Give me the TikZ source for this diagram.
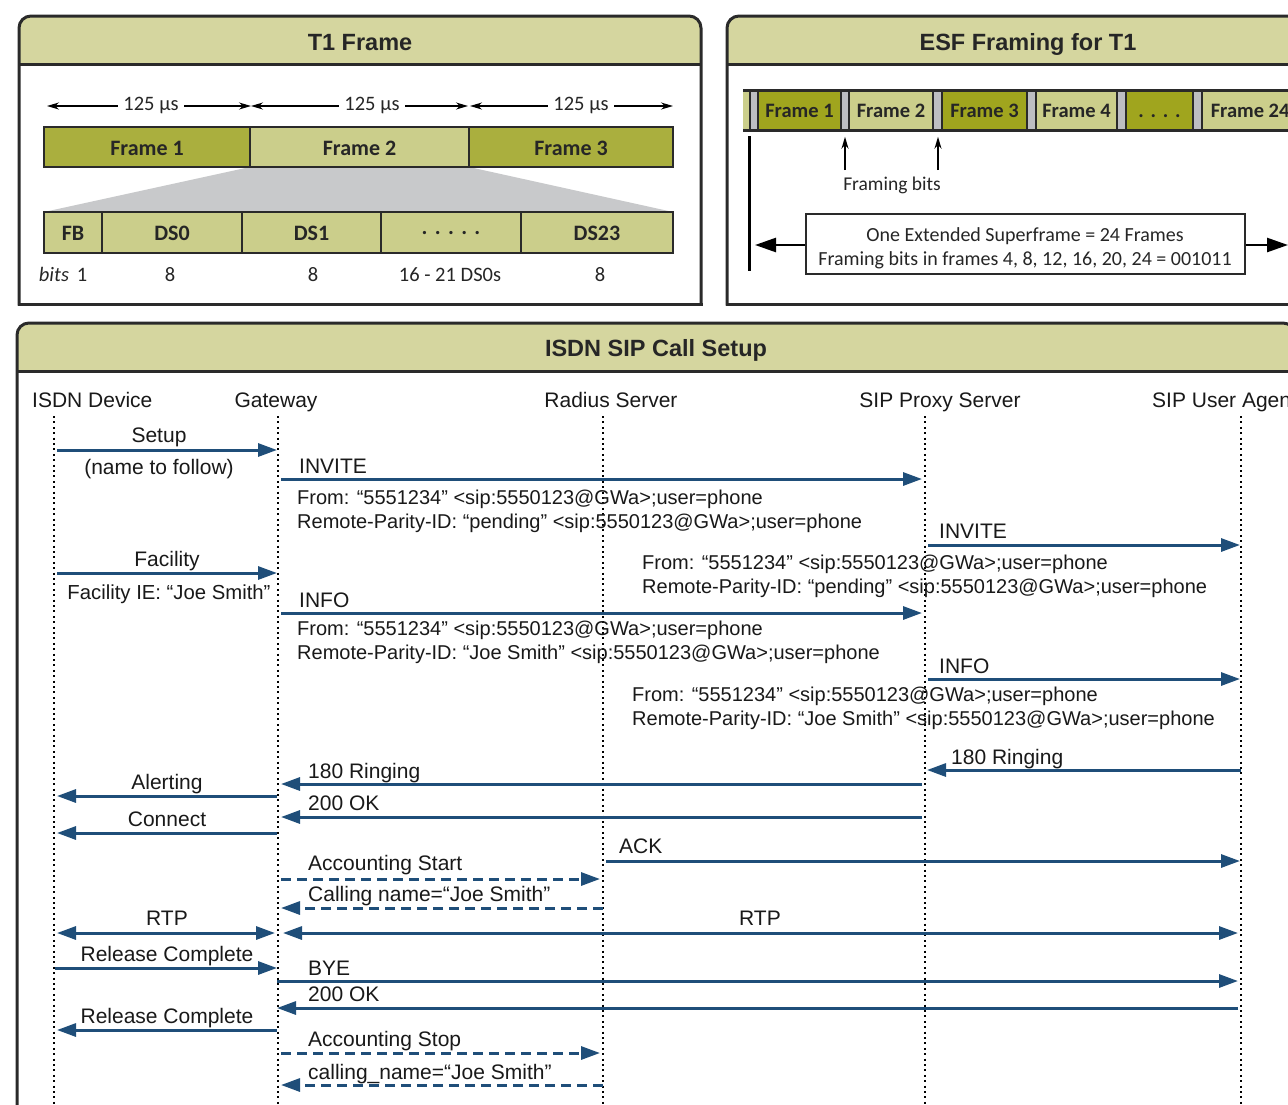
\documentclass[tikz,border=0pt]{standalone}
\usepackage{fontspec}
\setmainfont{Liberation Sans}
\newfontfamily\calfont{Carlito}
\usetikzlibrary{arrows.meta}
\definecolor{band}{HTML}{D5D69F}
\definecolor{oliveA}{HTML}{AAAF3E}
\definecolor{oliveB}{HTML}{A0A51E}
\definecolor{lightol}{HTML}{CBCE8B}
\definecolor{trapgray}{HTML}{C8C9CB}
\definecolor{fbitgray}{HTML}{BDBEC2}
\definecolor{msgblue}{HTML}{1F4E79}
\definecolor{edgecol}{HTML}{2A2A2A}
\begin{document}
\begin{tikzpicture}[x=1pt,y=-1pt,
  panelline/.style={draw=edgecol,line width=3pt},
  ttl/.style={font=\fontsize{23.5}{28}\selectfont\bfseries,text=black!85,inner sep=0pt,anchor=base},
  cell/.style={draw=edgecol,line width=2pt,minimum height=40pt,inner sep=0pt,text height=16pt,text depth=0pt,
     font=\calfont\bfseries\fontsize{22}{26}\selectfont,text=black!85},
  ecell/.style={draw=edgecol,line width=1.5pt,minimum height=40pt,inner sep=0pt,text height=15pt,text depth=0pt,
     font=\calfont\bfseries\fontsize{20.5}{24}\selectfont,text=black!85},
  ttxt/.style={font=\calfont\fontsize{20.5}{24}\selectfont,text=black!85,inner sep=0pt},
  etxt/.style={font=\calfont\fontsize{19.5}{23}\selectfont,text=black!85,inner sep=0pt},
  dimarr/.style={draw=black,line width=1.4pt,{Stealth[length=12pt,width=7pt]}-{Stealth[length=12pt,width=7pt]}},
  uparr/.style={draw=black,line width=1.5pt,-{Stealth[length=12pt,width=7pt]}},
  bigarr/.style={draw=black,line width=2.5pt,-{Triangle[length=21pt,width=14pt]}},
  seq/.style={font=\fontsize{21}{25}\selectfont,text=black!90,inner sep=0pt},
  seqs/.style={font=\fontsize{20}{24}\selectfont,text=black!90,inner sep=0pt,anchor=base west},
  msg/.style={draw=msgblue,line width=3pt,-{Triangle[length=19pt,width=13pt]}},
  msgd/.style={msg,dash pattern=on 10pt off 6pt},
  msgb/.style={draw=msgblue,line width=3pt,{Triangle[length=19pt,width=13pt]}-{Triangle[length=19pt,width=13pt]}},
  lifeline/.style={draw=black,line width=2.2pt,dash pattern=on 2pt off 3.4pt}
]
\useasboundingbox (0,0) rectangle (1288,1104);
\clip (0,0) rectangle (1288,1104);

% ================= T1 Frame panel =================
\fill[band,rounded corners=12pt] (19,16) rectangle (701,90);
\fill[white] (19,64) rectangle (701,304);
\draw[panelline] (19,64) -- (701,64);
\draw[panelline,rounded corners=12pt,line cap=rect] (19,304) -- (19,16) -- (701,16) -- (701,304);
\draw[panelline,line cap=rect] (19,304) -- (701,304);
\node[ttl] (t1title) at (360,50.5) {T1 Frame};

% durations
\draw[dimarr] (47,106) -- (251,106);
\draw[dimarr] (251,106) -- (468,106);
\draw[dimarr] (470,106) -- (673,106);
\node[ttxt,fill=white,inner xsep=5pt] (d1) at (151,105) {125 µs};
\node[ttxt,fill=white,inner xsep=5pt] (d2) at (372,105) {125 µs};
\node[ttxt,fill=white,inner xsep=5pt] (d3) at (581,105) {125 µs};

% trapezoid
\fill[trapgray] (250,167) -- (469,167) -- (673,212) -- (44,212) -- cycle;

% frames
\node[cell,fill=oliveA,minimum width=206pt] (f1) at (147,147) {Frame 1};
\node[cell,fill=lightol,minimum width=219pt] (f2) at (359.5,147) {Frame 2};
\node[cell,fill=oliveA,minimum width=204pt] (f3) at (571,147) {Frame 3};

% DS row
\begin{scope}[every node/.append style={text height=19pt}]
\node[cell,fill=lightol,minimum width=58pt,minimum height=41pt] (fb) at (73,232.5) {FB};
\node[cell,fill=lightol,minimum width=140pt,minimum height=41pt] (ds0) at (172,232.5) {DS0};
\node[cell,fill=lightol,minimum width=139pt,minimum height=41pt] (ds1) at (311.5,232.5) {DS1};
\node[cell,fill=lightol,minimum width=140pt,minimum height=41pt] (dsd) at (451,232.5) {\raisebox{6pt}{.\,\,.\,\,.\,\,.\,\,.}};
\node[cell,fill=lightol,minimum width=152pt,minimum height=41pt] (ds23) at (597,232.5) {DS23};
\end{scope}

% bits
\node[ttxt,anchor=base] (b0) at (54,281) {\itshape bits};
\node[ttxt,anchor=base] (b1) at (82,281) {1};
\node[ttxt,anchor=base] (b2) at (170,281) {8};
\node[ttxt,anchor=base] (b3) at (313,281) {8};
\node[ttxt,anchor=base] (b4) at (450,281) {16 - 21 DS0s};
\node[ttxt,anchor=base] (b5) at (600,281) {8};

% ================= ESF panel =================
\fill[band,rounded corners=12pt] (727,16) rectangle (1330,90);
\fill[white] (727,64) rectangle (1330,304);
\draw[panelline] (727,64) -- (1330,64);
\draw[panelline,rounded corners=12pt,line cap=rect] (727,304) -- (727,16) -- (1330,16) -- (1330,304);
\draw[panelline,line cap=rect] (727,304) -- (1330,304);
\node[ttl] (esftitle) at (1028,50.5) {ESF Framing for T1};

\node[ecell,fill=lightol,minimum width=7pt,draw=none] (st) at (746.5,110) {};
\node[ecell,fill=fbitgray,minimum width=8pt] (g1) at (754,110) {};
\node[ecell,fill=oliveB,minimum width=83pt] (e1) at (799.5,110) {Frame 1};
\node[ecell,fill=fbitgray,minimum width=8pt] (g2) at (845,110) {};
\node[ecell,fill=lightol,minimum width=84pt] (e2) at (891,110) {Frame 2};
\node[ecell,fill=fbitgray,minimum width=9pt] (g3) at (937.5,110) {};
\node[ecell,fill=oliveB,minimum width=85pt] (e3) at (984.5,110) {Frame 3};
\node[ecell,fill=fbitgray,minimum width=9pt] (g4) at (1031.5,110) {};
\node[ecell,fill=lightol,minimum width=81pt] (e4) at (1076.5,110) {Frame 4};
\node[ecell,fill=fbitgray,minimum width=9pt] (g5) at (1121.5,110) {};
\node[ecell,fill=oliveB,minimum width=67pt] (e5) at (1159.5,110) {.\,\,.\,\,.\,\,.};
\node[ecell,fill=fbitgray,minimum width=9pt] (g6) at (1197.5,110) {};
\node[ecell,fill=lightol,minimum width=96pt] (e24) at (1250,110) {};
\node[ecell,draw=none,anchor=base west,text height=,minimum height=0pt] (e24l) at (1210,117.5) {Frame 24};
\draw[draw=edgecol,line width=3pt] (743,90) -- (1300,90);
\draw[draw=edgecol,line width=3pt] (743,130) -- (1300,130);

\node[etxt] (fbl) at (892,185) {Framing bits};
\coordinate (fa1) at (845,170);
\coordinate (fa2) at (938,170);
\draw[uparr] (fa1) -- ([yshift=-6pt]g2.south -| fa1);
\draw[uparr] (fa2) -- ([yshift=-6pt]g3.south -| fa2);

\coordinate (vt) at (749,136);
\coordinate (vb) at (749,271);
\draw[draw=black,line width=3pt] (vt) -- (vb);

\node[draw=edgecol,line width=2pt,fill=white,minimum width=439pt,minimum height=60pt] (sf) at (1025,244) {};
\node[align=center,font=\calfont\fontsize{20}{24}\selectfont,text=black!85,inner sep=0pt] (sftext) at (1025,248.5)
  {One Extended Superframe = 24 Frames\\Framing bits in frames 4, 8, 12, 16, 20, 24 = 001011};
\coordinate (la) at (755,245);
\coordinate (ra) at (1288,245);
\draw[bigarr] (sf.west |- la) -- (la);
\draw[bigarr] (sf.east |- ra) -- (ra);

% ================= ISDN SIP Call Setup panel =================
\fill[band,rounded corners=12pt] (17,323) rectangle (1295,400);
\fill[white] (17,371) rectangle (1295,1120);
\draw[panelline] (17,371) -- (1295,371);
\draw[panelline,rounded corners=12pt] (17,1120) -- (17,323) -- (1295,323) -- (1295,1120);
\node[ttl] (isdntitle) at (656,356.5) {ISDN SIP Call Setup};

% lifeline heads
\node[seq,anchor=base west] (h1) at (32,407) {ISDN Device};
\node[seq,anchor=base] (h2) at (276,407) {Gateway};
\node[seq,anchor=base] (h3) at (611,407) {Radius Server};
\node[seq,anchor=base] (h4) at (940,407) {SIP Proxy Server};
\node[seq,anchor=base west] (h5) at (1152,407) {SIP User Agent};

\coordinate (isdn) at (54,416);
\coordinate (gw) at (278,416);
\coordinate (rad) at (603,416);
\coordinate (prx) at (925,416);
\coordinate (ua) at (1241,416);
\coordinate (bot) at (0,1110);
\foreach \l in {isdn,gw,rad,prx,ua} \draw[lifeline] (\l) -- (\l |- bot);

% rows
\coordinate (r01) at (0,450);
\coordinate (r02) at (0,479);
\coordinate (r03) at (0,545);
\coordinate (r04) at (0,573);
\coordinate (r05) at (0,613);
\coordinate (r06) at (0,679);
\coordinate (r07) at (0,770);
\coordinate (r08) at (0,784);
\coordinate (r09) at (0,796);
\coordinate (r10) at (0,817);
\coordinate (r11) at (0,833);
\coordinate (r12) at (0,861);
\coordinate (r13) at (0,879);
\coordinate (r14) at (0,908);
\coordinate (r15) at (0,933);
\coordinate (r17) at (0,968);
\coordinate (r18) at (0,981);
\coordinate (r19) at (0,1008);
\coordinate (r20) at (0,1030);
\coordinate (r21) at (0,1053);
\coordinate (r22) at (0,1085);

% messages
\draw[msg] ([xshift=3pt]isdn |- r01) -- ([xshift=-1pt]gw |- r01);
\draw[msg] ([xshift=3pt]gw |- r02) -- ([xshift=-3pt]prx |- r02);
\draw[msg] ([xshift=3pt]prx |- r03) -- ([xshift=-1pt]ua |- r03);
\draw[msg] ([xshift=3pt]isdn |- r04) -- ([xshift=-1pt]gw |- r04);
\draw[msg] ([xshift=3pt]gw |- r05) -- ([xshift=-3pt]prx |- r05);
\draw[msg] ([xshift=3pt]prx |- r06) -- ([xshift=-1pt]ua |- r06);
\draw[msg] (ua |- r07) -- ([xshift=2pt]prx |- r07);
\draw[msg] ([xshift=-3pt]prx |- r08) -- ([xshift=3pt]gw |- r08);
\draw[msg] ([xshift=-1pt]gw |- r09) -- ([xshift=3pt]isdn |- r09);
\draw[msg] ([xshift=-3pt]prx |- r10) -- ([xshift=3pt]gw |- r10);
\draw[msg] ([xshift=-1pt]gw |- r11) -- ([xshift=3pt]isdn |- r11);
\draw[msg] ([xshift=3pt]rad |- r12) -- ([xshift=-1pt]ua |- r12);
\draw[msgd] ([xshift=3pt]gw |- r13) -- ([xshift=-3pt]rad |- r13);
\draw[msgd] (rad |- r14) -- ([xshift=3pt]gw |- r14);
\draw[msgb] ([xshift=3pt]isdn |- r15) -- ([xshift=-3pt]gw |- r15);
\draw[msgb] ([xshift=5pt]gw |- r15) -- ([xshift=-3pt]ua |- r15);
\draw[msg] ([xshift=1pt]isdn |- r17) -- ([xshift=-1pt]gw |- r17);
\draw[msg] ([xshift=-1pt]gw |- r18) -- ([xshift=-3pt]ua |- r18);
\draw[msg] ([xshift=-3pt]ua |- r19) -- ([xshift=-1pt]gw |- r19);
\draw[msg] ([xshift=-1pt]gw |- r20) -- ([xshift=3pt]isdn |- r20);
\draw[msgd] ([xshift=3pt]gw |- r21) -- ([xshift=-3pt]rad |- r21);
\draw[msgd] (rad |- r22) -- ([xshift=3pt]gw |- r22);

% message labels
\node[seq,anchor=base] (m01) at (159,442) {Setup};
\node[seq,anchor=base] (m01b) at (159,474) {(name to follow)};
\node[seq,anchor=base west] (m02) at (299,473) {INVITE};
\node[seqs] (m02a) at (297,504) {From: “5551234” <sip:5550123@GWa>;user=phone};
\node[seqs] (m02b) at (297,528) {Remote-Parity-ID: “pending” <sip:5550123@GWa>;user=phone};
\node[seq,anchor=base west] (m03) at (939,538) {INVITE};
\node[seqs] (m03a) at (642,569) {From: “5551234” <sip:5550123@GWa>;user=phone};
\node[seqs] (m03b) at (642,593) {Remote-Parity-ID: “pending” <sip:5550123@GWa>;user=phone};
\node[seq,anchor=base] (m04) at (167,566) {Facility};
\node[seq,anchor=base,font=\fontsize{20.3}{24}\selectfont] (m04b) at (169,599) {Facility IE: “Joe Smith”};
\node[seq,anchor=base west] (m05) at (299,607) {INFO};
\node[seqs] (m05a) at (297,635) {From: “5551234” <sip:5550123@GWa>;user=phone};
\node[seqs] (m05b) at (297,659) {Remote-Parity-ID: “Joe Smith” <sip:5550123@GWa>;user=phone};
\node[seq,anchor=base west] (m06) at (939,673) {INFO};
\node[seqs] (m06a) at (632,701) {From: “5551234” <sip:5550123@GWa>;user=phone};
\node[seqs] (m06b) at (632,725) {Remote-Parity-ID: “Joe Smith” <sip:5550123@GWa>;user=phone};
\node[seq,anchor=base west] (m07) at (951,764) {180 Ringing};
\node[seq,anchor=base west] (m08) at (308,778) {180 Ringing};
\node[seq,anchor=base] (m09) at (167,789) {Alerting};
\node[seq,anchor=base west] (m10) at (308,810) {200 OK};
\node[seq,anchor=base] (m11) at (167,826) {Connect};
\node[seq,anchor=base west] (m12) at (619,853) {ACK};
\node[seq,anchor=base west] (m13) at (308,870) {Accounting Start};
\node[seq,anchor=base west] (m14) at (308,901) {Calling name=“Joe Smith”};
\node[seq,anchor=base] (m15) at (167,925) {RTP};
\node[seq,anchor=base] (m16) at (760,925) {RTP};
\node[seq,anchor=base] (m17) at (167,961) {Release Complete};
\node[seq,anchor=base west] (m18) at (308,975) {BYE};
\node[seq,anchor=base west] (m19) at (308,1001) {200 OK};
\node[seq,anchor=base] (m20) at (167,1023) {Release Complete};
\node[seq,anchor=base west] (m21) at (308,1046) {Accounting Stop};
\node[seq,anchor=base west] (m22) at (308,1079) {calling\_name=“Joe Smith”};
\end{tikzpicture}
\end{document}
